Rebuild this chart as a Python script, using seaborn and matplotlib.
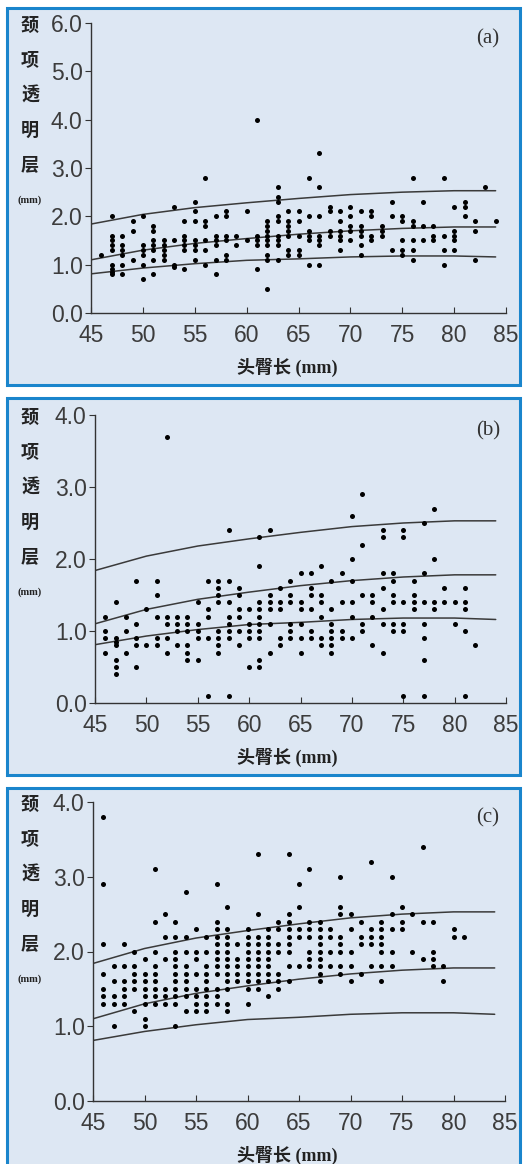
import numpy as np
import pandas as pd
import matplotlib
matplotlib.use('Agg')
import matplotlib.pyplot as plt
from matplotlib.patches import Rectangle
import seaborn as sns

# reference percentile curves (same in every panel)
curve_crl = [45, 50, 55, 60, 65, 70, 75, 80, 84]
nt_p95 = [1.84, 2.04, 2.18, 2.28, 2.37, 2.45, 2.50, 2.53, 2.53]
nt_p50 = [1.10, 1.30, 1.44, 1.54, 1.63, 1.70, 1.75, 1.78, 1.78]
nt_p5 = [0.81, 0.93, 1.02, 1.09, 1.12, 1.16, 1.18, 1.18, 1.16]

# measured NT values grouped by CRL (mm)
nt_a = {
    46: [1.2], 47: [2.0, 1.6, 1.5, 1.4, 1.3, 1.0, 0.9, 0.85, 0.8],
    48: [1.6, 1.4, 1.3, 1.2, 1.0, 0.8], 49: [1.9, 1.7, 1.1],
    50: [2.0, 1.4, 1.3, 1.2, 1.0, 0.7], 51: [1.8, 1.7, 1.5, 1.4, 1.3, 1.1, 0.8],
    52: [1.5, 1.4, 1.3, 1.2, 1.1], 53: [2.2, 1.5, 1.0, 0.95],
    54: [1.9, 1.6, 1.5, 1.4, 1.3, 0.9], 55: [2.3, 2.1, 1.9, 1.5, 1.4, 1.3, 1.1],
    56: [2.8, 1.9, 1.8, 1.5, 1.3, 1.0], 57: [2.0, 1.6, 1.5, 1.4, 1.1, 0.8],
    58: [2.1, 2.0, 1.6, 1.5, 1.2, 1.1], 59: [1.6, 1.4], 60: [2.1, 1.5],
    61: [4.0, 1.6, 1.5, 1.4, 0.9], 62: [1.9, 1.8, 1.7, 1.6, 1.5, 1.4, 1.2, 1.1, 0.5],
    63: [2.6, 2.4, 2.3, 2.0, 1.9, 1.6, 1.5, 1.4, 1.1],
    64: [2.1, 1.9, 1.8, 1.7, 1.6, 1.3, 1.2], 65: [2.1, 1.9, 1.6, 1.3, 1.2],
    66: [2.8, 2.0, 1.7, 1.6, 1.5, 1.0], 67: [3.3, 2.6, 2.0, 1.6, 1.5, 1.4, 1.0],
    68: [2.2, 2.1, 1.7, 1.6], 69: [2.1, 1.9, 1.7, 1.6, 1.5, 1.3],
    70: [2.2, 2.0, 1.8, 1.7, 1.5], 71: [2.1, 1.8, 1.7, 1.6, 1.4, 1.2],
    72: [2.1, 2.0, 1.6, 1.5], 73: [1.8, 1.7, 1.6], 74: [2.3, 2.0, 1.3],
    75: [2.0, 1.9, 1.5, 1.3, 1.2], 76: [2.8, 1.9, 1.8, 1.5, 1.3, 1.1],
    77: [2.3, 1.8, 1.5], 78: [1.8, 1.6, 1.5], 79: [2.8, 1.6, 1.3, 1.0],
    80: [2.2, 1.7, 1.6, 1.5, 1.3], 81: [2.3, 2.2, 2.0], 82: [1.9, 1.7, 1.1],
    83: [2.6], 84: [1.9],
}
nt_b = {
    46: [1.2, 1.0, 0.9, 0.7], 47: [1.4, 0.9, 0.85, 0.8, 0.6, 0.5, 0.4],
    48: [1.2, 1.0, 0.7], 49: [1.7, 1.1, 0.9, 0.8, 0.5], 50: [1.3, 0.8],
    51: [1.7, 1.5, 1.2, 0.9, 0.8], 52: [3.7, 1.2, 1.1, 0.9, 0.7],
    53: [1.2, 1.1, 1.0, 0.8], 54: [1.2, 1.1, 1.0, 0.8, 0.7, 0.6],
    55: [1.4, 1.1, 1.0, 0.9, 0.6], 56: [1.7, 1.3, 1.2, 0.9, 0.1],
    57: [1.7, 1.6, 1.5, 1.4, 1.0, 0.9, 0.8, 0.7],
    58: [2.4, 1.7, 1.4, 1.2, 1.1, 1.0, 0.9, 0.1],
    59: [1.6, 1.5, 1.3, 1.2, 1.0, 0.8], 60: [1.3, 1.1, 1.0, 0.9, 0.5],
    61: [2.3, 1.9, 1.4, 1.3, 1.2, 1.1, 1.0, 0.9, 0.6, 0.5],
    62: [2.4, 1.5, 1.4, 1.3, 1.1, 0.7], 63: [1.6, 1.4, 1.3, 0.9, 0.8],
    64: [1.7, 1.5, 1.4, 1.1, 1.0, 0.9], 65: [1.8, 1.4, 1.3, 1.1, 0.9, 0.7],
    66: [1.8, 1.6, 1.5, 1.3, 1.0, 0.9], 67: [1.9, 1.5, 1.4, 1.2, 0.9, 0.8],
    68: [1.7, 1.3, 1.1, 1.0, 0.9, 0.8, 0.7], 69: [1.8, 1.4, 1.0, 0.9],
    70: [2.6, 2.0, 1.7, 1.4, 1.2, 0.9], 71: [2.9, 2.2, 1.5, 1.1, 1.0],
    72: [1.5, 1.4, 1.2, 0.8], 73: [2.4, 2.3, 1.8, 1.6, 1.3, 1.1, 0.7],
    74: [1.8, 1.7, 1.5, 1.4, 1.1, 1.0], 75: [2.4, 2.3, 1.4, 1.1, 1.0, 0.1],
    76: [1.7, 1.5, 1.4, 1.3], 77: [2.5, 1.8, 1.4, 1.1, 0.9, 0.6, 0.1],
    78: [2.7, 2.0, 1.4, 1.3], 79: [1.6, 1.4], 80: [1.4, 1.1],
    81: [1.6, 1.4, 1.3, 1.0, 0.1], 82: [0.8],
}
nt_c = {
    46: [3.8, 2.9, 2.1, 1.7, 1.5, 1.4, 1.3], 47: [1.8, 1.6, 1.4, 1.3, 1.0],
    48: [2.1, 1.8, 1.6, 1.5, 1.4, 1.3], 49: [2.0, 1.8, 1.7, 1.6, 1.5, 1.2],
    50: [1.9, 1.7, 1.6, 1.5, 1.4, 1.3, 1.1, 1.0],
    51: [3.1, 2.4, 2.0, 1.8, 1.7, 1.6, 1.5, 1.4, 1.3],
    52: [2.5, 2.2, 1.9, 1.5, 1.4, 1.3],
    53: [2.4, 2.2, 2.0, 1.9, 1.8, 1.7, 1.6, 1.5, 1.4, 1.3, 1.0],
    54: [2.8, 2.2, 2.0, 1.8, 1.7, 1.6, 1.5, 1.4, 1.2],
    55: [2.3, 2.0, 1.9, 1.7, 1.5, 1.4, 1.3, 1.2],
    56: [2.2, 2.0, 1.8, 1.7, 1.6, 1.5, 1.4, 1.3, 1.2],
    57: [2.9, 2.4, 2.3, 2.2, 2.1, 2.0, 1.9, 1.8, 1.7, 1.5, 1.4, 1.3],
    58: [2.6, 2.3, 2.2, 2.1, 2.0, 1.9, 1.8, 1.7, 1.6, 1.5, 1.3, 1.2],
    59: [2.1, 1.9, 1.8, 1.7, 1.6],
    60: [2.3, 2.2, 2.1, 2.0, 1.9, 1.8, 1.7, 1.6, 1.5, 1.3],
    61: [3.3, 2.5, 2.2, 2.1, 2.0, 1.9, 1.8, 1.7, 1.6, 1.5],
    62: [2.3, 2.2, 2.1, 2.0, 1.9, 1.8, 1.7, 1.6, 1.4],
    63: [2.4, 2.3, 2.1, 2.0, 1.7, 1.6, 1.5],
    64: [3.3, 2.5, 2.4, 2.3, 2.2, 2.1, 2.0, 1.8, 1.6],
    65: [2.9, 2.6, 2.3, 2.2, 1.8], 66: [3.1, 2.4, 2.3, 2.2, 2.0, 1.9, 1.8],
    67: [2.4, 2.3, 2.2, 2.1, 2.0, 1.9, 1.8, 1.7, 1.6], 68: [2.3, 2.2, 2.0, 1.8],
    69: [3.0, 2.6, 2.5, 2.2, 2.1, 2.0, 1.8, 1.7], 70: [2.5, 2.3, 2.0, 1.8, 1.6],
    71: [2.4, 2.2, 2.1, 1.7], 72: [3.2, 2.3, 2.2, 2.1, 1.8],
    73: [2.4, 2.3, 2.2, 2.1, 2.0, 1.8, 1.6], 74: [3.0, 2.5, 2.3, 2.0, 1.8],
    75: [2.6, 2.4, 2.3], 76: [2.5, 2.0], 77: [3.4, 2.4, 1.9],
    78: [2.4, 2.0, 1.9, 1.8], 79: [1.8, 1.6], 80: [2.3, 2.2], 81: [2.2],
}

panel_labels = ['(a)', '(b)', '(c)']
y_max = [6.0, 4.0, 4.0]
x_ticks = [45, 50, 55, 60, 65, 70, 75, 80, 85]


def to_frame(groups):
    rows = [(crl, nt) for crl, vals in groups.items() for nt in vals]
    return pd.DataFrame(rows, columns=['crl', 'nt'])


sns.set_style('ticks')
plt.rcParams['font.family'] = ['Liberation Sans', 'DejaVu Sans']

W, H = 527, 1164
fig = plt.figure(figsize=(W / 100, H / 100), dpi=100)

# panel frames in pixels: left, top, right, bottom
frames = [(7, 8, 520, 385), (7, 398, 520, 775), (7, 788, 520, 1176)]
# axes boxes in pixels: left, top, right, bottom
boxes = [(91, 23, 506, 313), (95, 415, 506, 703), (93, 802, 505, 1101)]

cjk = ['Liberation Serif', 'Noto Sans CJK SC']
for i, groups in enumerate([nt_a, nt_b, nt_c]):
    fl, ft, fr, fb = frames[i]
    rect = Rectangle((fl / W, 1 - fb / H), (fr - fl) / W, (fb - ft) / H,
                     transform=fig.transFigure, facecolor='#dde7f3',
                     edgecolor='#1a85cc', linewidth=2.2, zorder=-1)
    fig.add_artist(rect)

    l, t, r, b = boxes[i]
    ax = fig.add_axes([l / W, 1 - b / H, (r - l) / W, (b - t) / H])
    ax.patch.set_alpha(0)

    df = to_frame(groups)
    sns.scatterplot(data=df, x='crl', y='nt', ax=ax, color='black', s=13,
                    linewidth=0, zorder=3)
    for curve in [nt_p95, nt_p50, nt_p5]:
        sns.lineplot(x=curve_crl, y=curve, ax=ax, color='#3a3a3a', lw=1.1)

    ax.set_xlim(45, 85)
    ax.set_ylim(0, y_max[i])
    ax.set_xticks(x_ticks)
    ax.set_yticks(np.arange(0, y_max[i] + 0.01, 1.0))
    ax.yaxis.set_major_formatter('{x:.1f}')
    ax.set_xlabel('')
    ax.set_ylabel('')
    sns.despine(ax=ax)
    for sp in ['left', 'bottom']:
        ax.spines[sp].set_color('#333333')
        ax.spines[sp].set_linewidth(1.0)
    ax.tick_params(axis='x', direction='in', length=4, pad=8,
                   labelsize=16.5, labelcolor='#3c3c3c', color='#333333')
    ax.tick_params(axis='y', direction='out', length=4, pad=2,
                   labelsize=16.5, labelcolor='#3c3c3c', color='#333333')

    # vertical stacked y label
    for k, ch in enumerate('颈项透明层'):
        fig.text(30 / W, 1 - (t + 2 + 35 * k) / H, ch, ha='center', va='center',
                 fontsize=13, fontweight='bold', family=['Noto Sans CJK SC'],
                 color='#222222')
    fig.text(30 / W, 1 - (t + 177) / H, '(mm)', ha='center', va='center',
             fontsize=7.5, fontweight='bold', family=['Liberation Serif'],
             color='#222222')

    fig.text(287 / W, 1 - (b + 54) / H, '头臀长 (mm)', ha='center',
             va='center', fontsize=13, fontweight='bold', family=cjk,
             color='#222222')
    fig.text(488 / W, 1 - (t + 16) / H, panel_labels[i], ha='center',
             va='center', fontsize=15, family=['Liberation Serif'],
             color='#333333')

fig.savefig('out.png', dpi=100)
